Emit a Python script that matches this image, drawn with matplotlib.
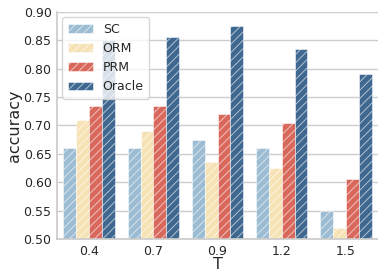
import numpy as np
import matplotlib
matplotlib.use('Agg')
import matplotlib.pyplot as plt
import seaborn as sns

temps = ['0.4', '0.7', '0.9', '1.2', '1.5']
methods = ['SC', 'ORM', 'PRM', 'Oracle']
sc = [0.66, 0.66, 0.675, 0.66, 0.55]
orm = [0.71, 0.69, 0.635, 0.625, 0.52]
prm = [0.735, 0.735, 0.72, 0.705, 0.605]
oracle = [0.85, 0.855, 0.875, 0.835, 0.79]
colors = ['#9bbcd3', '#f7e2b6', '#d9685c', '#3e6890']

sns.set_theme(style='whitegrid')
plt.rcParams['hatch.color'] = 'white'
plt.rcParams['hatch.linewidth'] = 0.7

fig, ax = plt.subplots(figsize=(3.78, 2.7), dpi=100)
x = np.arange(len(temps))
w = 0.2
for i, (name, vals) in enumerate(zip(methods, [sc, orm, prm, oracle])):
    ax.bar(x + (i - 1.5) * w, vals, w, color=colors[i], label=name,
           hatch='////', edgecolor=(1, 1, 1, 0.6), linewidth=0.6)

ax.set_ylim(0.5, 0.9)
ax.set_xlim(-0.5, 4.5)
ax.set_yticks(np.arange(0.5, 0.901, 0.05))
ax.set_xticks(x)
ax.set_xticklabels(temps)
ax.tick_params(labelsize=9, pad=4, length=0)
ax.set_xlabel('T', fontsize=11.5)
ax.set_ylabel('accuracy', fontsize=11.5)
ax.xaxis.set_label_coords(0.5, -0.08)
ax.yaxis.set_label_coords(-0.11, 0.5)
ax.grid(axis='x', visible=False)
sns.despine(ax=ax)
ax.legend(loc='upper left', fontsize=9, handlelength=2.0, borderpad=0.45,
          labelspacing=0.5, borderaxespad=0.4)
fig.subplots_adjust(left=0.151, right=1.0, top=0.956, bottom=0.115)
fig.savefig('out.png')
